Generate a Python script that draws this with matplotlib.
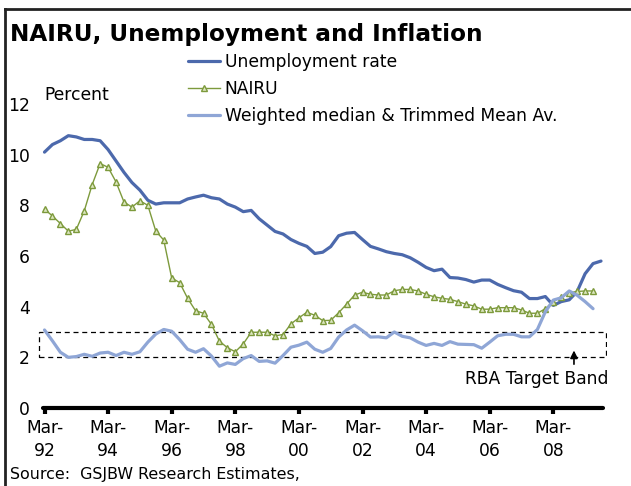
import matplotlib
matplotlib.use("Agg")
import matplotlib.pyplot as plt
from matplotlib.lines import Line2D
from matplotlib.patches import Rectangle
import numpy as np

# quarterly data, Mar-92 onwards (index 0 = Mar-92)
unemployment = [10.1, 10.4, 10.55, 10.75, 10.7, 10.6, 10.6, 10.55, 10.2, 9.75,
                9.3, 8.9, 8.6, 8.2, 8.05, 8.1, 8.1, 8.1, 8.25, 8.33,
                8.4, 8.3, 8.25, 8.05, 7.93, 7.75, 7.8, 7.47, 7.22, 6.97,
                6.87, 6.65, 6.5, 6.38, 6.1, 6.15, 6.37, 6.8, 6.9, 6.93,
                6.65, 6.38, 6.28, 6.17, 6.1, 6.05, 5.93, 5.75, 5.55, 5.42,
                5.48, 5.15, 5.13, 5.07, 4.97, 5.05, 5.05, 4.88, 4.75, 4.63,
                4.57, 4.32, 4.32, 4.4, 4.05, 4.2, 4.27, 4.6, 5.3, 5.7, 5.8]

nairu = [7.85, 7.58, 7.28, 6.98, 7.05, 7.78, 8.82, 9.65, 9.5, 8.92,
         8.13, 7.93, 8.18, 8.0, 6.98, 6.63, 5.13, 4.95, 4.33, 3.84,
         3.74, 3.3, 2.64, 2.38, 2.22, 2.53, 2.99, 2.99, 2.99, 2.85,
         2.9, 3.32, 3.56, 3.78, 3.66, 3.45, 3.46, 3.76, 4.1, 4.46,
         4.57, 4.49, 4.46, 4.46, 4.63, 4.68, 4.68, 4.62, 4.49, 4.39,
         4.33, 4.29, 4.2, 4.1, 4.03, 3.9, 3.9, 3.96, 3.96, 3.96,
         3.87, 3.74, 3.74, 3.92, 4.2, 4.4, 4.55, 4.6, 4.62, 4.62]

inflation = [3.08, 2.65, 2.2, 2.0, 2.03, 2.12, 2.04, 2.17, 2.2, 2.07,
             2.2, 2.12, 2.22, 2.6, 2.92, 3.1, 3.03, 2.7, 2.32, 2.2,
             2.34, 2.05, 1.65, 1.78, 1.72, 1.95, 2.07, 1.84, 1.86, 1.77,
             2.07, 2.4, 2.48, 2.6, 2.32, 2.2, 2.35, 2.8, 3.08, 3.27,
             3.05, 2.8, 2.81, 2.77, 3.0, 2.83, 2.77, 2.6, 2.47, 2.55,
             2.47, 2.62, 2.52, 2.51, 2.5, 2.36, 2.6, 2.85, 2.91, 2.91,
             2.81, 2.81, 3.1, 3.8, 4.26, 4.35, 4.62, 4.45, 4.2, 3.92]

tick_pos = [0, 8, 16, 24, 32, 40, 48, 56, 64]
tick_labels = ["Mar-\n92", "Mar-\n94", "Mar-\n96", "Mar-\n98", "Mar-\n00",
               "Mar-\n02", "Mar-\n04", "Mar-\n06", "Mar-\n08"]
band_low, band_high = 2, 3

W, H = 631, 486
fig = plt.figure(figsize=(W / 100, H / 100), dpi=100)
fs = 12.3

# axes placed in pixel terms: x index 0 -> px 44.5, 7.95 px per quarter
x0, dx = 44.5, 7.95
xmin, xmax = -0.8, 70.8
left_px = x0 + xmin * dx
right_px = x0 + xmax * dx
ax = fig.add_axes([left_px / W, (H - 408) / H, (right_px - left_px) / W, (408 - 104) / H])

c_unemp = "#4C69AC"
c_nairu = "#7D9A3C"
c_infl = "#8FA6D6"

ax.plot(range(len(unemployment)), unemployment, color=c_unemp, lw=2.3,
        label="Unemployment rate", solid_capstyle="round")
ax.plot(range(len(nairu)), nairu, color=c_nairu, lw=1.0, marker="^", ms=4,
        mfc="#DCE6C0", mec=c_nairu, mew=1.0, label="NAIRU")
ax.plot(range(len(inflation)), inflation, color=c_infl, lw=2.3,
        label="Weighted median & Trimmed Mean Av.", solid_capstyle="round")

ax.add_patch(Rectangle((-0.7, band_low), 71.3, band_high - band_low, fill=False,
                       ec="black", lw=0.9, ls=(0, (4, 3))))
ax.annotate("", xy=(66.6, 2.38), xytext=(66.6, 1.62),
            arrowprops=dict(arrowstyle="-|>", color="black", lw=1.2, mutation_scale=11))
ax.text(61.9, 1.14, "RBA Target Band", ha="center", va="center", fontsize=fs)

ax.set_xlim(xmin, xmax)
ax.set_ylim(0, 12)
ax.set_yticks([0, 2, 4, 6, 8, 10, 12])
ax.tick_params(axis="y", length=0, pad=6, labelsize=fs)
ax.set_xticks(tick_pos)
ax.set_xticklabels(tick_labels, fontsize=fs, linespacing=1.35)
ax.tick_params(axis="x", direction="out", length=4, width=3, pad=4)

for s in ["top", "right", "left"]:
    ax.spines[s].set_visible(False)
ax.spines["bottom"].set_linewidth(3)
ax.spines["bottom"].set_bounds(-0.2, 70.3)
ax.spines["bottom"].set_capstyle("round")

# figure frame (top and left only)
fig.add_artist(Line2D([5 / W, 1], [1 - 9 / H, 1 - 9 / H], color="#222222", lw=2))
fig.add_artist(Line2D([5 / W, 5 / W], [0, 1 - 9 / H], color="#222222", lw=2))

fig.text(10 / W, 1 - 34 / H, "NAIRU, Unemployment and Inflation", fontsize=16.7,
         fontweight="bold", ha="left", va="center")
fig.text(44 / W, 1 - 95 / H, "Percent", fontsize=fs, ha="left", va="center")
fig.text(10 / W, 1 - 474 / H, "Source:  GSJBW Research Estimates,", fontsize=11.4,
         ha="left", va="center")

fig.legend(loc="upper left", bbox_to_anchor=(188 / W, 1 - 53 / H), frameon=False,
           fontsize=fs, handlelength=1.9, handletextpad=0.25, labelspacing=0.52,
           borderaxespad=0, borderpad=0)

fig.savefig("out.png", dpi=100)
